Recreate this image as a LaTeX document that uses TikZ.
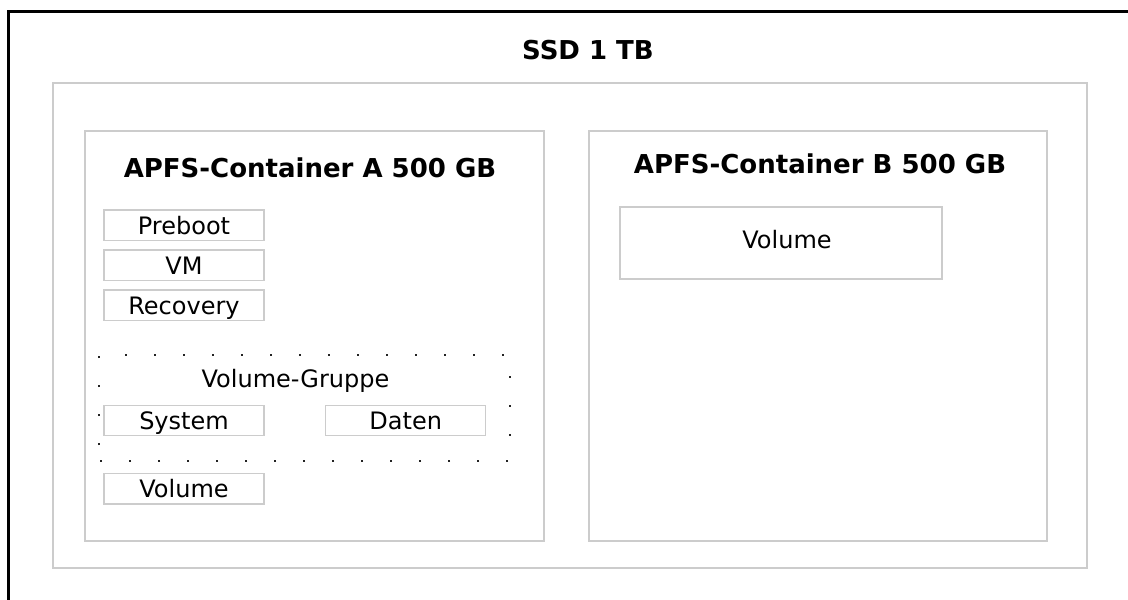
\documentclass[tikz,border=0pt]{standalone}
\usepackage{fontspec}
\setmainfont{DejaVu Sans}
\definecolor{boxgray}{HTML}{CCCCCC}
\definecolor{dotgray}{HTML}{222222}
\tikzset{
  frame/.style={draw=boxgray, line width=1.4pt, inner sep=0pt},
  volbox/.style={draw=boxgray, line width=1.2pt, minimum width=160pt,
    minimum height=30.7pt, inner sep=0pt, text height=17.5pt, text depth=0pt,
    font=\fontsize{24}{28}\selectfont},
  title/.style={font=\bfseries\fontsize{26}{30}\selectfont, anchor=base, inner sep=0pt},
  plain/.style={font=\fontsize{24}{28}\selectfont, anchor=base, inner sep=0pt},
  dotgrp/.style={draw=dotgray, line width=2.3pt, dash pattern=on 2.3pt off 26.7pt, dash phase=13pt},
}
\begin{document}
\begin{tikzpicture}[x=1pt,y=-1pt]
\useasboundingbox (0,0) rectangle (1128,600);
\clip (0,0) rectangle (1128,600);
\fill[white] (0,0) rectangle (1128,600);
% outer frame, running off the right and bottom edges
\draw[line width=2.2pt] (8.5,11.5) rectangle (1160,630);

% drive
\node[frame, minimum width=1034pt, minimum height=485pt] (ssd) at (570,325.5) {};
\node[title] (ssdt) at (588,59) {SSD 1 TB};

% containers
\node[frame, minimum width=459pt, minimum height=410pt] (ca) at (314.5,336) {};
\node[frame, minimum width=458pt, minimum height=410pt] (cb) at (818,336) {};
\node[title] (cat) at (310,177) {APFS-Container A 500 GB};
\node[title] (cbt) at (820,173.5) {APFS-Container B 500 GB};

% volumes in container A
\node[volbox] (preboot)  at (184,225.3) {Preboot};
\node[volbox] (vm)       at (184,265.3) {VM};
\node[volbox] (recovery) at (184,305.3) {Recovery};

% volume group
\coordinate (g1) at (99,461);
\coordinate (g2) at (99,355);
\coordinate (g3) at (510,355);
\coordinate (g4) at (510,461);
\draw[dotgrp] (g1) -- (g2) -- (g3) -- (g4) -- cycle;
\node[plain] (grpt) at (295.5,387) {Volume-Gruppe};
\node[volbox] (system) at (184,420.5) {System};
\node[volbox] (daten)  at (405.7,420.5) {Daten};

\node[volbox] (vola) at (184,488.7) {Volume};

% volume in container B
\node[frame, line width=1.2pt, minimum width=322pt, minimum height=72pt] (volb) at (781,243) {};
\node[plain] (volbt) at (787,248) {Volume};
\end{tikzpicture}
\end{document}
